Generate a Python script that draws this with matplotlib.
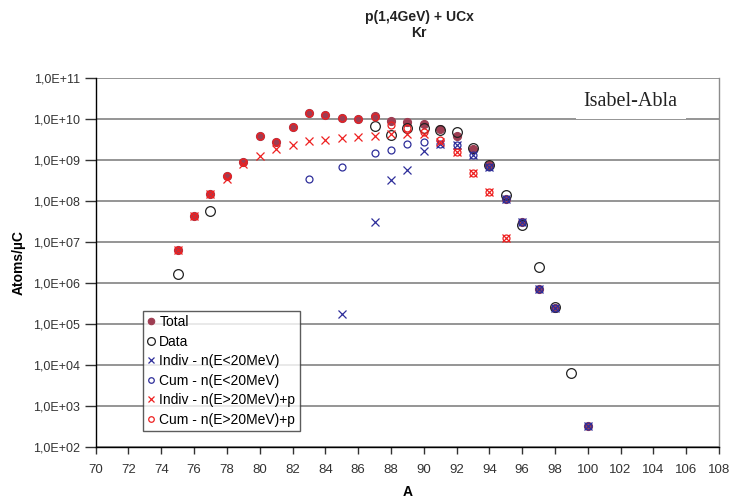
import numpy as np
import matplotlib
matplotlib.use('Agg')
from matplotlib import pyplot as plt
from matplotlib.ticker import FixedLocator, FuncFormatter

# valeurs
A_total = [75, 76, 77, 78, 79, 80, 81, 82, 83, 84, 85, 86, 87, 88, 89, 90, 91, 92, 93, 94, 95, 96, 97, 98, 100]
total = [6.3e6, 4.4e7, 1.45e8, 4.1e8, 8.7e8, 3.8e9, 2.75e9, 6.5e9, 1.38e10, 1.25e10, 1.04e10, 9.8e9, 1.17e10,
         8.8e9, 8.4e9, 7.4e9, 5.7e9, 3.9e9, 1.85e9, 7.6e8, 1.12e8, 3.0e7, 7.1e5, 2.4e5, 3.2e2]

A_data = [75, 77, 87, 88, 89, 90, 91, 92, 93, 94, 95, 96, 97, 98, 99]
data = [1.66e6, 5.8e7, 6.6e9, 4.1e9, 6.0e9, 6.0e9, 5.5e9, 4.9e9, 1.96e9, 7.6e8, 1.4e8, 2.6e7, 2.5e6, 2.6e5, 6.3e3]

A_indiv_lo = [85, 87, 88, 89, 90, 91, 92, 93, 94, 95, 96, 97, 98, 100]
indiv_lo = [1.75e5, 3.0e7, 3.3e8, 5.7e8, 1.66e9, 2.4e9, 2.3e9, 1.3e9, 6.6e8, 1.12e8, 3.0e7, 7.1e5, 2.4e5, 3.2e2]

A_cum_lo = [83, 85, 87, 88, 89, 90, 91, 92, 93, 94, 95, 96, 97, 98, 100]
cum_lo = [3.5e8, 6.6e8, 1.45e9, 1.8e9, 2.4e9, 2.8e9, 2.4e9, 2.3e9, 1.3e9, 6.6e8, 1.12e8, 3.0e7, 7.1e5, 2.4e5, 3.2e2]

A_indiv_hi = [75, 76, 77, 78, 79, 80, 81, 82, 83, 84, 85, 86, 87, 88, 89, 90, 91, 92, 93, 94, 95]
indiv_hi = [6.3e6, 4.4e7, 1.45e8, 3.5e8, 7.8e8, 1.26e9, 1.86e9, 2.34e9, 2.95e9, 3.16e9, 3.5e9, 3.6e9, 3.9e9,
            4.3e9, 4.4e9, 4.2e9, 2.8e9, 1.6e9, 4.8e8, 1.63e8, 1.26e7]

A_cum_hi = [75, 76, 77, 78, 79, 80, 81, 82, 83, 84, 85, 86, 87, 88, 89, 90, 91, 92, 93, 94, 95]
cum_hi = [6.3e6, 4.4e7, 1.45e8, 4.1e8, 8.7e8, 3.8e9, 2.75e9, 6.5e9, 1.38e10, 1.25e10, 1.04e10, 9.8e9, 1.15e10,
          7.1e9, 6.0e9, 4.9e9, 3.1e9, 1.6e9, 4.8e8, 1.63e8, 1.26e7]

labels = ['Total', 'Data', 'Indiv - n(E<20MeV)', 'Cum - n(E<20MeV)', 'Indiv - n(E>20MeV)+p', 'Cum - n(E>20MeV)+p']
x_ticks = list(range(70, 109, 2))
y_ticks = [1e2, 1e3, 1e4, 1e5, 1e6, 1e7, 1e8, 1e9, 1e10, 1e11]

plt.rcParams['font.family'] = ['Liberation Sans', 'DejaVu Sans']

maroon = '#9e3d52'
blue = '#2e2e9a'
red = '#ee2020'

fig = plt.figure(figsize=(7.32, 5.04), dpi=100)
ax = fig.add_axes([0.1307, 0.1131, 0.8515, 0.7321])

ax.plot(A_total, total, 'o', ms=5.8, mfc=maroon, mec=maroon, mew=0.8, label=labels[0])
ax.plot(A_data, data, 'o', ms=7, mfc='none', mec='#222222', mew=0.9, label=labels[1])
ax.plot(A_indiv_lo, indiv_lo, 'x', ms=5.5, color=blue, mew=0.9, label=labels[2])
ax.plot(A_cum_lo, cum_lo, 'o', ms=5, mfc='none', mec=blue, mew=0.9, label=labels[3])
ax.plot(A_indiv_hi, indiv_hi, 'x', ms=5.5, color=red, mew=0.9, label=labels[4])
ax.plot(A_cum_hi, cum_hi, 'o', ms=5, mfc='none', mec=red, mew=0.9, label=labels[5])

ax.set_yscale('log')
ax.set_xlim(70, 108)
ax.set_ylim(1e2, 1e11)
ax.xaxis.set_major_locator(FixedLocator(x_ticks))
ax.yaxis.set_major_locator(FixedLocator(y_ticks))
ax.yaxis.set_minor_locator(FixedLocator([]))
ax.yaxis.set_major_formatter(FuncFormatter(lambda v, p: '1,0E+%02d' % int(round(np.log10(v)))))
ax.tick_params(axis='both', colors='#333333', length=5, width=1)
ax.tick_params(axis='x', pad=7, labelsize=9.5)
ax.tick_params(axis='y', length=8, labelsize=9)
ax.grid(axis='y', color='#8c8c8c', lw=1.3)
ax.set_axisbelow(True)

for s in ['left', 'bottom']:
    ax.spines[s].set_color('black')
    ax.spines[s].set_linewidth(1)
ax.spines['top'].set_visible(False)
ax.spines['right'].set_color('#8c8c8c')
ax.spines['right'].set_linewidth(1)

ax.set_xlabel('A', fontsize=10, fontweight='bold', labelpad=7)
ax.set_ylabel('Atoms/µC', fontsize=10, fontweight='bold', labelpad=5)

fig.text(0.5724, 0.966, 'p(1,4GeV) + UCx', ha='center', va='center', fontsize=10, fontweight='bold', color='#222222')
fig.text(0.5724, 0.934, 'Kr', ha='center', va='center', fontsize=10, fontweight='bold', color='#222222')

ax.text(0.8585, 0.9375, 'Isabel-Abla', transform=ax.transAxes, ha='center', va='center',
        fontsize=14.5, family='Liberation Serif', color='#222222',
        bbox=dict(facecolor='white', edgecolor='none', pad=6))

leg = ax.legend(loc='upper left', bbox_to_anchor=(0.0754, 0.369), borderaxespad=0, fontsize=10,
                frameon=True, fancybox=False, edgecolor='#333333', handlelength=0.6, handletextpad=0.3,
                labelspacing=0.4, borderpad=0.3, markerscale=0.8)
leg.get_frame().set_linewidth(1)

fig.savefig('out.png', dpi=100)
